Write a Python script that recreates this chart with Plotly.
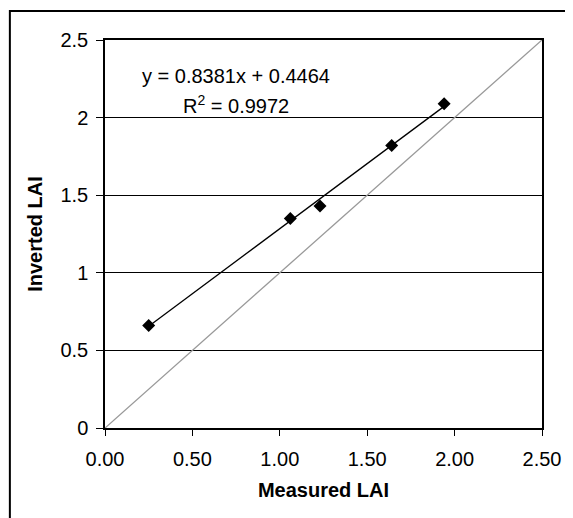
import plotly.graph_objects as go

measured = [0.25, 1.06, 1.23, 1.64, 1.94]
inverted = [0.66, 1.35, 1.43, 1.82, 2.09]
slope, intercept = 0.8381, 0.4464
eq_text = "y = 0.8381x + 0.4464"
r2_text = "R<sup>2</sup> = 0.9972"
x_ticks = [0, 0.5, 1.0, 1.5, 2.0, 2.5]
y_ticks = [0, 0.5, 1, 1.5, 2, 2.5]

# page has 8px body margin; compensate
OFF = 8
W, H = 573 - OFF, 518 - OFF
L, T = 105 - OFF, 40 - OFF
R = W - (546 - OFF)
B = H - (428 - OFF)
pw, ph = W - L - R, H - T - B

fig = go.Figure()
fig.add_trace(go.Scatter(x=[0, 2.5], y=[0, 2.5], mode="lines",
                         line=dict(color="#999999", width=1.3), hoverinfo="skip"))
xmin, xmax = min(measured), max(measured)
fig.add_trace(go.Scatter(x=[xmin, xmax], y=[slope * xmin + intercept, slope * xmax + intercept],
                         mode="lines", line=dict(color="black", width=1.3), hoverinfo="skip"))
fig.add_trace(go.Scatter(x=measured, y=inverted, mode="markers",
                         marker=dict(symbol="diamond", size=10, color="black")))

font = dict(family="Liberation Sans, Arial, sans-serif", size=20, color="black")
tfont = dict(family="Liberation Sans, Arial, sans-serif", size=20, color="black")

fig.add_annotation(x=0.752, y=2.268, xref="x", yref="y", text=eq_text,
                   showarrow=False, font=font)
fig.add_annotation(x=0.752, y=2.085, xref="x", yref="y", text=r2_text,
                   showarrow=False, font=font)

def px2paper_x(px):
    return (px - OFF - L) / pw

def py2paper_y(py):
    return (H - B - (py - OFF)) / ph

fig.add_shape(type="rect", xref="paper", yref="paper",
              x0=px2paper_x(9), x1=px2paper_x(590), y0=py2paper_y(540), y1=py2paper_y(11),
              line=dict(color="black", width=2), fillcolor="rgba(0,0,0,0)", layer="above")

fig.update_layout(
    width=W, height=H, margin=dict(l=L, r=R, t=T, b=B),
    paper_bgcolor="white", plot_bgcolor="white", showlegend=False,
    font=font,
    xaxis=dict(range=[0, 2.5], tickvals=x_ticks, ticktext=[f"{v:.2f}" for v in x_ticks],
               ticks="outside", ticklen=6, tickcolor="black", tickwidth=1,
               showline=True, linecolor="black", linewidth=1.5, mirror=True,
               showgrid=False, zeroline=False, tickfont=font, ticklabelstandoff=6,
               title=dict(text="<b>Measured LAI</b>", standoff=14, font=tfont)),
    yaxis=dict(range=[0, 2.5], tickvals=y_ticks, ticktext=[f"{v:g}" for v in y_ticks],
               ticks="outside", ticklen=7, tickcolor="black", tickwidth=1,
               showline=True, linecolor="black", linewidth=1.5, mirror=True,
               showgrid=True, gridcolor="black", gridwidth=1, zeroline=False, tickfont=font,
               ticklabelstandoff=4,
               title=dict(text="<b>Inverted LAI</b>", standoff=12, font=tfont)),
)

fig.write_html("out.html")
